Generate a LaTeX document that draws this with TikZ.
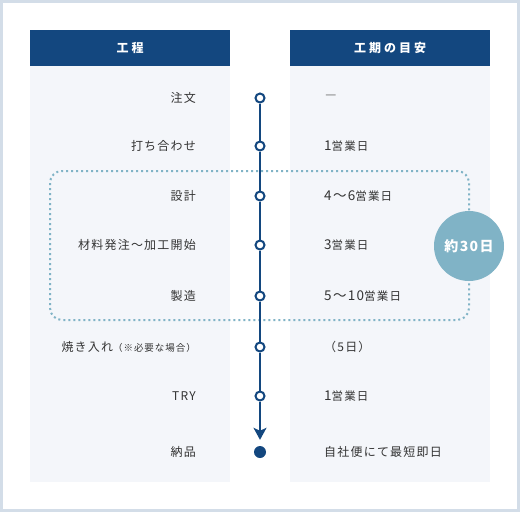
\documentclass[tikz,border=0pt]{standalone}
\usepackage{fontspec}
\setmainfont{Noto Sans CJK JP}[LetterSpace=10]
\newfontfamily\headfont{Noto Sans CJK JP}[LetterSpace=25]
\usetikzlibrary{arrows.meta}

\definecolor{navy}{HTML}{13477F}
\definecolor{panel}{HTML}{F4F6FA}
\definecolor{frameline}{HTML}{D3DDE8}
\definecolor{mist}{HTML}{80B3C6}
\definecolor{ink}{HTML}{333333}

\newcommand\workdays{{\fontsize{11.5}{13}\selectfont 営業日}}

\begin{document}
\begin{tikzpicture}[x=1pt, y=-1pt,
                    stop/.style={draw=navy, circle, line width=2pt, fill=white,
                                 minimum size=9pt, inner sep=0pt},
                    task/.style={anchor=east, text=ink, inner sep=0pt,
                                 font=\fontsize{12}{14}\selectfont},
                    term/.style={anchor=west, text=ink, inner sep=0pt,
                                 font=\fontsize{13.5}{15}\selectfont},
                    head/.style={fill=navy, text=white, minimum width=200pt,
                                 minimum height=36pt, inner sep=0pt,
                                 font=\headfont\bfseries\fontsize{12}{14}\selectfont}]
    % frame and columns
    \fill[frameline] (0,0) rectangle (520,512);
    \fill[white] (3,3) rectangle (517,509);
    \fill[panel] (30,66) rectangle (230,482);
    \fill[panel] (290,66) rectangle (490,482);
    \node[head] (h1) at (130,48) {工程};
    \node[head] (h2) at (390,48) {工期の目安};

    % 30-day group
    \draw[mist, line width=2pt, dash pattern=on 2pt off 3pt, rounded corners=12pt]
        (50,171) rectangle (469,320);
    \node[circle, fill=mist, minimum size=70pt, inner sep=0pt, text=white,
          font=\bfseries\fontsize{14}{16}\selectfont] (total) at (469,246) {約30日};

    % steps
    \node[task] (t1) at (196,98)  {注文};
    \node[task] (t2) at (196,146) {打ち合わせ};
    \node[task] (t3) at (196,196) {設計};
    \node[task] (t4) at (196,245) {材料発注～加工開始};
    \node[task] (t5) at (196,296) {製造};
    \node[task] (t6) at (196,347) {焼き入れ{\fontsize{9.5}{12}\selectfont（※必要な場合）}};
    \node[task] (t7) at (196,396) {TRY};
    \node[task] (t8) at (196,452) {納品};

    \node[term, text=gray] (d1) at (324,98) {－};
    \node[term] (d2) at (324,146) {1\workdays};
    \node[term] (d3) at (324,196) {4～6\workdays};
    \node[term] (d4) at (324,245) {3\workdays};
    \node[term] (d5) at (324,296) {5～10\workdays};
    \node[term, font=\fontsize{12}{14}\selectfont] (d6) at (324,347) {（5日）};
    \node[term] (d7) at (324,396) {1\workdays};
    \node[term, font=\fontsize{12}{14}\selectfont] (d8) at (324,452) {自社便にて最短即日};

    % timeline
    \node[stop] (1) at (260,98)  {};
    \node[stop] (2) at (260,146) {};
    \node[stop] (3) at (260,196) {};
    \node[stop] (4) at (260,245) {};
    \node[stop] (5) at (260,296) {};
    \node[stop] (6) at (260,347) {};
    \node[stop] (7) at (260,396) {};
    \node[circle, fill=navy, minimum size=12pt, inner sep=0pt] (8) at (260,452) {};
    \draw[navy, line width=2pt] (1) -- (2) -- (3) -- (4) -- (5) -- (6) -- (7);
    \draw[navy, line width=2pt, -{Stealth[length=12pt, width=13pt, inset=3pt]},
          shorten >=6pt] (7) -- (8);
\end{tikzpicture}
\end{document}
